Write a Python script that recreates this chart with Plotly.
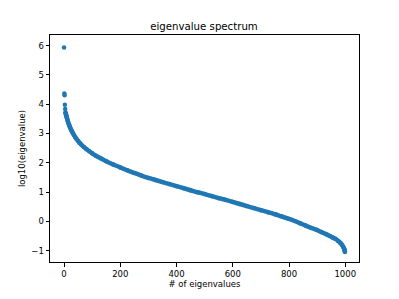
import plotly.graph_objects as go

# isolated leading eigenvalues
lead_idx = [0, 1, 2, 3, 4]
lead_val = [5.93, 4.36, 4.30, 3.98, 3.83]

# bulk of the spectrum
bulk_idx = [5, 6, 7, 8, 9, 10, 12, 14, 16, 18, 20, 23, 26, 30, 35, 40, 45, 50,
            55, 60, 70, 80, 90, 100, 115, 130, 150, 175, 200, 225, 250, 275, 300,
            325, 350, 375, 400, 425, 450, 475, 500, 525, 550, 575, 600, 625, 650,
            675, 700, 725, 750, 775, 800, 820, 840, 860, 880, 900, 915, 930, 945,
            955, 965, 975, 982, 988, 992, 995, 997, 998, 999]
bulk_val = [3.72, 3.68, 3.64, 3.61, 3.57, 3.54, 3.47, 3.40, 3.34, 3.29,
            3.24, 3.17, 3.11, 3.03, 2.95, 2.87, 2.80, 2.74, 2.68, 2.63, 2.54, 2.46,
            2.39, 2.32, 2.23, 2.15, 2.05, 1.94, 1.84, 1.74, 1.65, 1.56, 1.48, 1.41,
            1.34, 1.27, 1.20, 1.13, 1.06, 0.99, 0.93, 0.86, 0.79, 0.73, 0.66, 0.59,
            0.52, 0.45, 0.38, 0.31, 0.24, 0.16, 0.08, 0.01, -0.07, -0.15, -0.23,
            -0.30, -0.37, -0.43, -0.50, -0.55, -0.60, -0.67, -0.73, -0.80, -0.86,
            -0.91, -0.96, -1.00, -1.05]

x_ticks = [0, 200, 400, 600, 800, 1000]
y_ticks = [-1, 0, 1, 2, 3, 4, 5, 6]

blue = "#1f77b4"
font = "DejaVu Sans"

fig = go.Figure()
fig.add_trace(go.Scatter(x=lead_idx, y=lead_val, mode="markers",
                         marker=dict(color=blue, size=4.5), showlegend=False))
fig.add_trace(go.Scatter(x=bulk_idx, y=bulk_val, mode="lines+markers",
                         line=dict(color=blue, width=4.5, shape="spline", smoothing=0.6),
                         marker=dict(color=blue, size=4.5), showlegend=False))

axis_common = dict(showline=True, mirror=True, linecolor="black", linewidth=1,
                   ticks="outside", ticklen=3.5, tickwidth=1, tickcolor="black",
                   showgrid=False, zeroline=False,
                   tickfont=dict(family=font, size=8.5, color="black"))

# the page body adds an 8px offset, so the figure is 8px smaller and margins shifted
W, H = 391, 291
fig.update_layout(
    width=W, height=H,
    margin=dict(l=42, r=40, t=27, b=33),
    paper_bgcolor="white", plot_bgcolor="white",
    font=dict(family=font, color="black"),
    title=dict(text="eigenvalue spectrum", x=(204 - 8) / W, xanchor="center",
               y=1 - 18 / H, yanchor="middle",
               font=dict(family=font, size=10.2, color="black")),
    xaxis=dict(range=[-49.95, 1048.95], tickvals=x_ticks,
               title=dict(text="# of eigenvalues", standoff=2,
                          font=dict(family=font, size=8.5, color="black")),
               **axis_common),
    yaxis=dict(range=[-1.39, 6.36], tickvals=y_ticks,
               title=dict(text="log10(eigenvalue)", standoff=4,
                          font=dict(family=font, size=8.5, color="black")),
               **axis_common),
)

fig.write_html("out.html")
